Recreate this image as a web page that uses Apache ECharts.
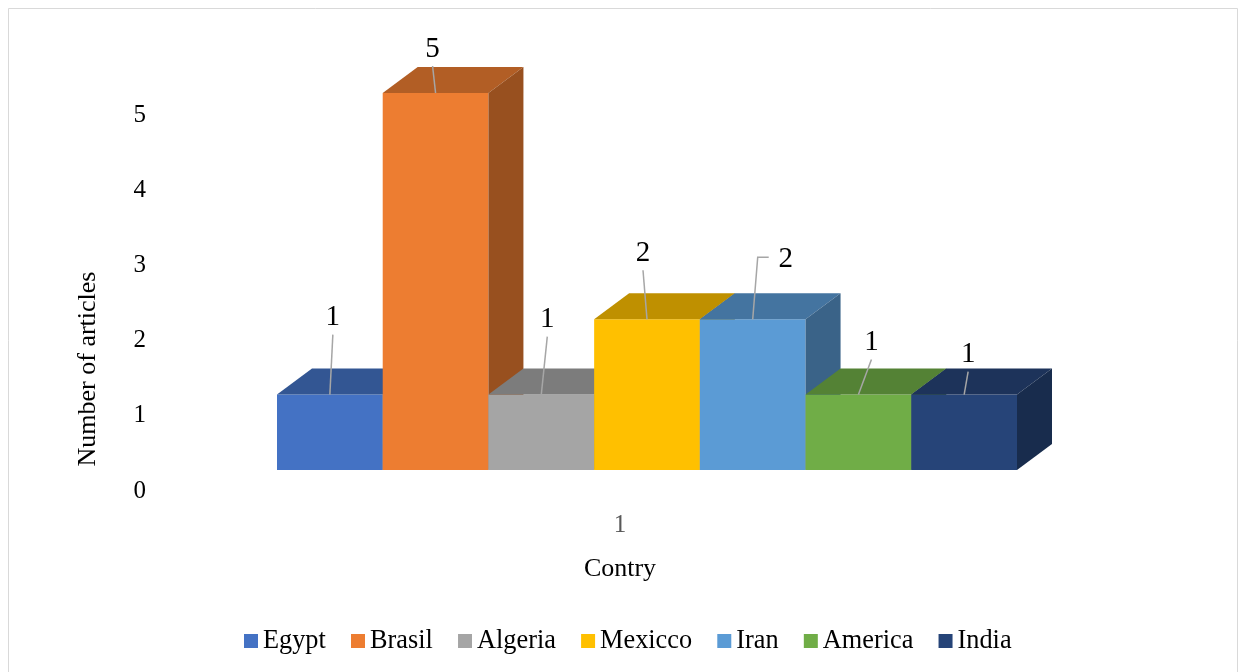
<!DOCTYPE html>
<html>
<head>
<meta charset="utf-8">
<script src="https://cdn.jsdelivr.net/npm/echarts@6/dist/echarts.min.js"></script>
<style>
html,body{margin:0;padding:0;background:#fff;}
#chart{width:1239px;height:672px;}
</style>
</head>
<body>
<div id="chart"></div>
<script>
// ---- data ----
const categories = ['1'];
const countries = ['Egypt', 'Brasil', 'Algeria', 'Mexicco', 'Iran', 'America', 'India'];
const articles = [1, 5, 1, 2, 2, 1, 1];
const yTickMin = 0, yTickMax = 5, yTickStep = 1;

// ---- styles ----
const colors = ['#4472C4', '#ED7D31', '#A5A5A5', '#FFC000', '#5B9BD5', '#70AD47', '#264478'];
const labelOffsets = [[3, -79], [-3, -46], [6, -77], [-4, -68], [33, -62], [13, -54], [4, -42]];
const elbowLabels = [false, false, false, false, true, false, false];
const DEPTH_X = 35, DEPTH_Y = -26;
const FONT = '"Liberation Serif", "Times New Roman", serif';

function shade(hex, f) {
  const n = parseInt(hex.slice(1), 16);
  const r = Math.round(((n >> 16) & 255) * f);
  const g = Math.round(((n >> 8) & 255) * f);
  const b = Math.round((n & 255) * f);
  return 'rgb(' + r + ',' + g + ',' + b + ')';
}

function makeRender(si) {
  return function (params, api) {
    const idx = api.value(0);
    const v = api.value(1);
    const p0 = api.coord([idx, 0]);
    const p1 = api.coord([idx, v]);
    const w = api.size([1, 0])[0];
    const x0 = p0[0] - w / 2, x1 = p0[0] + w / 2;
    const yb = p0[1], yt = p1[1];
    const c = colors[si];
    const cx = p0[0];
    const lx = cx + labelOffsets[si][0];
    const ly = yt + labelOffsets[si][1];
    let leaderPts;
    if (elbowLabels[si]) {
      leaderPts = [[lx - 17, ly], [lx - 28, ly], [cx, yt]];
    } else {
      leaderPts = [[lx, ly + 19], [cx, yt]];
    }
    return {
      type: 'group',
      children: [
        { type: 'rect', shape: { x: x0, y: yt, width: x1 - x0, height: yb - yt }, style: { fill: c }, z2: 1 },
        { type: 'polygon', shape: { points: [[x0, yt], [x0 + DEPTH_X, yt + DEPTH_Y], [x1 + DEPTH_X, yt + DEPTH_Y], [x1, yt]] }, style: { fill: shade(c, 0.75) }, z2: 1 },
        { type: 'polygon', shape: { points: [[x1, yt], [x1 + DEPTH_X, yt + DEPTH_Y], [x1 + DEPTH_X, yb + DEPTH_Y], [x1, yb]] }, style: { fill: shade(c, 0.64) }, z2: 1 },
        { type: 'polyline', shape: { points: leaderPts }, style: { stroke: '#A6A6A6', lineWidth: 1.5, fill: null }, z2: 50 },
        { type: 'text', x: lx, y: ly + 2, style: { text: String(v), font: '29px ' + FONT, fill: '#000', align: 'center', verticalAlign: 'middle' }, z2: 60 }
      ]
    };
  };
}

const series = countries.map(function (name, i) {
  return {
    type: 'custom',
    name: name,
    xAxisIndex: 1,
    yAxisIndex: 1,
    itemStyle: { color: colors[i] },
    renderItem: makeRender(i),
    encode: { x: 0, y: 1 },
    data: [[i, articles[i]]]
  };
});

const chart = echarts.init(document.getElementById('chart'), null, { renderer: 'canvas' });
chart.setOption({
  backgroundColor: '#fff',
  animation: false,
  textStyle: { fontFamily: FONT },
  graphic: [{
    type: 'rect', silent: true,
    shape: { x: 8.5, y: 8.5, width: 1229, height: 700 },
    style: { fill: null, stroke: '#D9D9D9', lineWidth: 1 }
  }],
  legend: {
    data: countries,
    left: 239,
    top: 623,
    icon: 'rect',
    itemWidth: 14,
    itemHeight: 14,
    itemGap: 25.2,
    textStyle: { fontFamily: FONT, fontSize: 26.3, color: '#000' }
  },
  grid: [
    { left: 154, width: 932, top: 115, height: 376 },
    { left: 277, width: 740, top: 93, height: 377 }
  ],
  xAxis: [
    {
      gridIndex: 0, type: 'category', data: categories,
      axisLine: { show: false }, axisTick: { show: false },
      axisLabel: { color: '#595959', fontSize: 25, fontFamily: FONT, margin: 22 },
      name: 'Contry', nameLocation: 'middle', nameGap: 65,
      nameTextStyle: { color: '#000', fontSize: 26, fontFamily: FONT }
    },
    {
      gridIndex: 1, type: 'category', data: countries, show: false
    }
  ],
  yAxis: [
    {
      gridIndex: 0, type: 'value', min: yTickMin, max: yTickMax, interval: yTickStep,
      axisLine: { show: false }, axisTick: { show: false }, splitLine: { show: false },
      axisLabel: { color: '#000', fontSize: 25, fontFamily: FONT, margin: 8 },
      name: 'Number of articles', nameLocation: 'middle', nameGap: 53,
      nameTextStyle: { color: '#000', fontSize: 26, fontFamily: FONT, padding: [0, 132, 0, 0] }
    },
    {
      gridIndex: 1, type: 'value', min: yTickMin, max: yTickMax, show: false
    }
  ],
  series: series
});
</script>
</body>
</html>
